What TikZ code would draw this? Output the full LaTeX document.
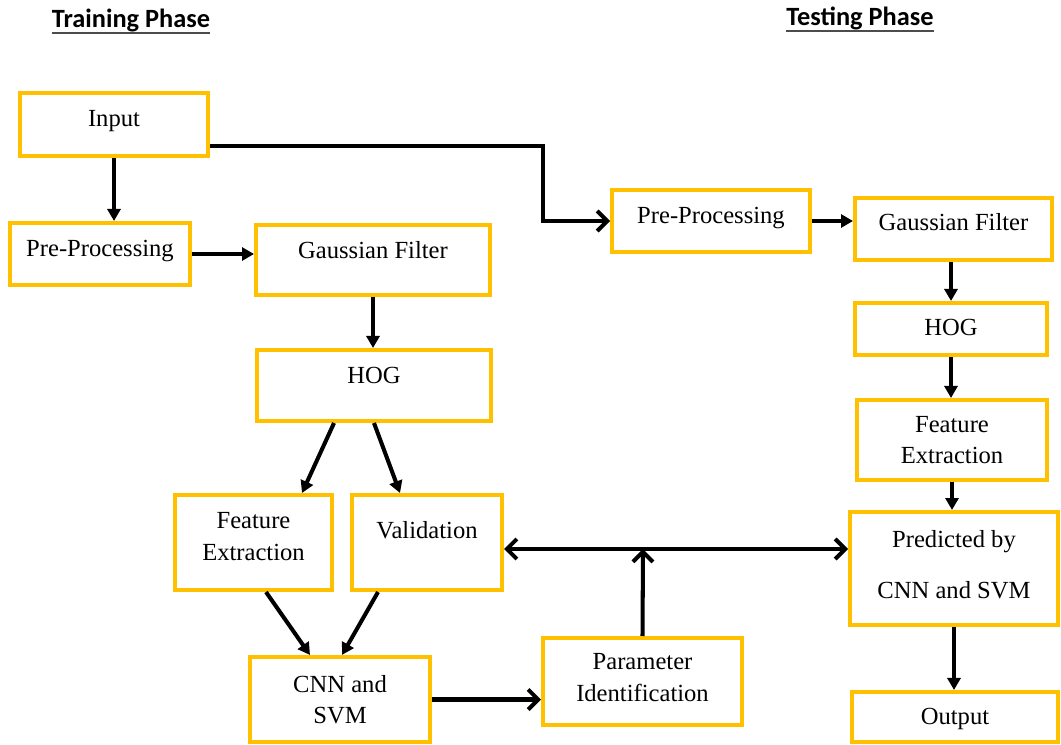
\documentclass[tikz,border=0pt]{standalone}
\usepackage{fontspec}
\setmainfont{Liberation Serif}
\newfontfamily\headfont{Carlito}
\usetikzlibrary{arrows.meta}
\definecolor{boxorange}{RGB}{255,192,0}

\begin{document}
\begin{tikzpicture}[x=0.02cm,y=-0.02cm,
  blk/.style={rectangle,draw=boxorange,line width=2.3pt,fill=white,align=center,inner sep=2pt,font=\fontsize{14}{18}\selectfont},
  lift/.style={text height=0.36cm,text depth=#1},
  mlift/.style={text height=#1,text depth=0.1cm},
  arr/.style={-{Triangle[length=0.24cm,width=0.26cm]},line width=2.3pt},
  barb/.style={-{Straight Barb[length=0.2cm,width=0.4cm]},line width=2.3pt},
  head/.style={font=\headfont\bfseries\fontsize{15}{18}\selectfont,inner sep=0pt,anchor=base}]

     \useasboundingbox (0,0) rectangle (1061,744);

     % headings
     \node[head] (trainhead) at (131,27) {Training Phase};
     \node[head] (testhead) at (860,25) {Testing Phase};
     \draw[gray!60!black,line width=1.3pt] ([yshift=-3.5pt]trainhead.base west) -- ([yshift=-3.5pt]trainhead.base east);
     \draw[gray!60!black,line width=1.3pt] ([yshift=-3.5pt]testhead.base west) -- ([yshift=-3.5pt]testhead.base east);

     % training phase
     \node[blk,lift=0.29cm,minimum width=3.76cm,minimum height=1.26cm] (input) at (114,124.5) {Input};
     \node[blk,lift=0.27cm,minimum width=3.6cm,minimum height=1.24cm] (prel) at (100,254) {Pre-Processing};
     \node[blk,lift=0.43cm,minimum width=4.68cm,minimum height=1.4cm] (gaul) at (373,260) {Gaussian Filter};
     \node[blk,lift=0.45cm,minimum width=4.68cm,minimum height=1.42cm] (hogl) at (374,385.5) {HOG};
     \node[blk,mlift=0.8cm,minimum width=3.14cm,minimum height=1.9cm] (featl) at (253.5,542.5) {Feature\\Extraction};
     \node[blk,lift=0.53cm,minimum width=3cm,minimum height=1.9cm] (valid) at (427,542.5) {Validation};
     \node[blk,minimum width=3.6cm,minimum height=1.7cm] (cnnl) at (340,699.5) {CNN and\\SVM};
     \node[blk,mlift=0.88cm,minimum width=3.98cm,minimum height=1.74cm] (param) at (642.5,681.5) {Parameter\\Identification};

     % testing phase
     \node[blk,lift=0.27cm,minimum width=3.96cm,minimum height=1.24cm] (prer) at (711,221) {Pre-Processing};
     \node[blk,lift=0.31cm,minimum width=3.94cm,minimum height=1.24cm] (gaur) at (953.5,229) {Gaussian Filter};
     \node[blk,lift=0.11cm,minimum width=3.84cm,minimum height=1.04cm] (hogr) at (951,329) {HOG};
     \node[blk,minimum width=3.8cm,minimum height=1.6cm] (featr) at (952,440) {Feature\\Extraction};
     \node[blk,mlift=1.28cm,minimum width=4.16cm,minimum height=2.26cm] (pred) at (954,568.5) {Predicted by\\[11pt]CNN and SVM};
     \node[blk,lift=0.05cm,minimum width=4.12cm,minimum height=1cm] (outr) at (955,717) {Output};

     \coordinate (bend) at (543,146);
     \coordinate (hub) at (643,549);

     \draw[barb] (input.east |- bend) -- (bend) |- (prer.west);
     \draw[arr] (input.south) -- (input.south |- prel.north);
     \draw[arr] (prel.east) -- (prel.east -| gaul.west);
     \draw[arr] (gaul.south) -- (gaul.south |- hogl.north);
     \draw[arr] ([xshift=-0.8cm]hogl.south) -- ([xshift=0.97cm]featl.north);
     \draw[arr] (hogl.south) -- ([xshift=-0.54cm]valid.north);
     \draw[arr] ([xshift=0.25cm]featl.south) -- ([xshift=-0.6cm]cnnl.north);
     \draw[arr] ([xshift=-0.98cm]valid.south) -- ([xshift=0.04cm]cnnl.north);
     \draw[barb] (cnnl.east) -- (cnnl.east -| param.west);
     \draw[barb] (param.north) -- (hub);
     \draw[{Straight Barb[length=0.2cm,width=0.4cm]}-{Straight Barb[length=0.2cm,width=0.4cm]},line width=2.3pt]
       (valid.east |- hub) -- (pred.west |- hub);

     \draw[arr] (prer.east) -- (prer.east -| gaur.west);
     \draw[arr] (gaur.south -| hogr.north) -- (hogr.north);
     \draw[arr] (hogr.south) -- (hogr.south |- featr.north);
     \draw[arr] (featr.south) -- (featr.south |- pred.north);
     \draw[arr] (pred.south) -- (pred.south |- outr.north);
\end{tikzpicture}
\end{document}
